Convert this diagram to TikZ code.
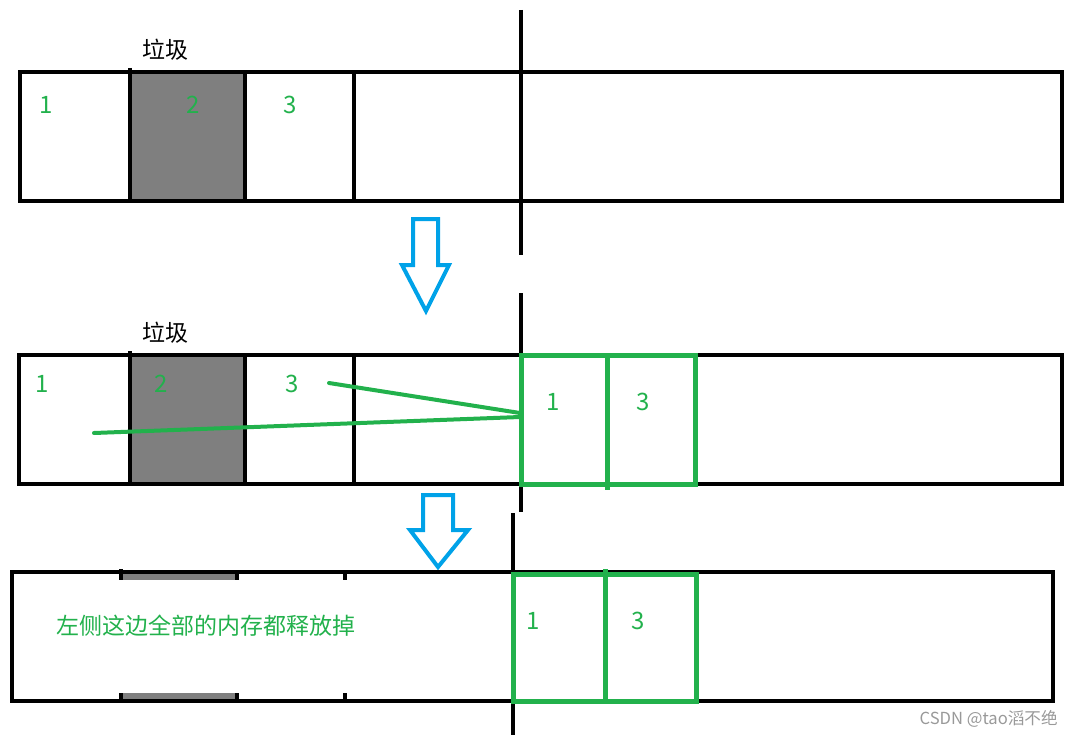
\documentclass[tikz,border=0pt]{standalone}
\usepackage{fontspec}
\setmainfont{Noto Sans CJK SC}
\usetikzlibrary{positioning}
\definecolor{paintgreen}{RGB}{34,177,76}
\definecolor{paintblue}{RGB}{0,162,232}
\definecolor{trash}{RGB}{127,127,127}

\begin{document}
\begin{tikzpicture}
	[x=0.5pt,y=-0.5pt,
	wall/.style={draw=black,line width=2.2pt},
	moved/.style={draw=paintgreen,line width=2.5pt},
	link/.style={draw=paintgreen,line width=2pt,line cap=round},
	num/.style={text=paintgreen,font=\fontsize{12}{14}\selectfont,inner sep=0pt},
	tag/.style={font=\fontsize{11.5}{13}\selectfont,inner sep=0pt},
	downarrow/.style={draw=paintblue,line width=2pt,line join=miter}]
	\useasboundingbox (0,0) rectangle (1075,738);

	% before
	\fill[trash] (130,72) rectangle (245,201);
	\draw[wall] (20,72) rectangle (1062,201);
	\draw[wall] (130,68) -- (130,201);
	\foreach \x in {245,354}
		\draw[wall] (\x,72) -- (\x,201);
	\draw[wall] (521,10) -- (521,255);
	\node[tag] (trashA) at (165,50) {垃圾};
	\foreach \n/\x in {1/46,2/193,3/290}
		\node[num] (a\n) at (\x,105) {\n};

	\draw[downarrow] (413,219) -- (438,219) -- (438,265) -- (449,265)
		-- (426,311) -- (402,265) -- (413,265) -- cycle;

	% copy
	\fill[trash] (130,355) rectangle (245,484);
	\draw[wall] (19,355) rectangle (1062,484);
	\draw[wall] (130,351) -- (130,484);
	\foreach \x in {245,354}
		\draw[wall] (\x,355) -- (\x,484);
	\draw[wall] (521,293) -- (521,512);
	\node[tag] (trashB) at (165,333) {垃圾};
	\foreach \n/\x in {1/42,2/161,3/292}
		\node[num] (b\n) at (\x,384) {\n};
	\draw[moved] (521,355) rectangle (695,484);
	\draw[moved] (607,355) -- (607,490);
	\node[num] (c1) at (553,402) {1};
	\node[num] (c3) at (643,402) {3};
	\coordinate (fromThree) at (329,383);
	\coordinate (toThree) at (520,413);
	\coordinate (fromOne) at (94,433);
	\coordinate (toOne) at (520,417);
	\path
	\foreach \startNode/\endNode in {fromThree/toThree,fromOne/toOne}
	{
		(\startNode) edge[link] (\endNode)
	};

	\draw[downarrow] (423,495) -- (453,495) -- (453,530) -- (468,530)
		-- (438,567) -- (410,530) -- (423,530) -- cycle;

	% after
	\fill[trash] (123,574) rectangle (235,580);
	\fill[trash] (123,693) rectangle (235,699);
	\draw[wall] (12,572) rectangle (1053,701);
	\draw[wall] (121,569) -- (121,580);
	\foreach \x in {237,345}
		\draw[wall] (\x,572) -- (\x,580);
	\foreach \x in {121,237,345}
		\draw[wall] (\x,693) -- (\x,701);
	\draw[wall] (513,513) -- (513,735);
	\draw[moved] (513,574) rectangle (696,701);
	\draw[moved] (605,569) -- (605,701);
	\node[num] (d1) at (533,621) {1};
	\node[num] (d3) at (638,621) {3};
	\node[tag,text=paintgreen] (freed) at (206,626) {左侧这边全部的内存都释放掉};
	\node[anchor=east,inner sep=0pt,text=black!40,font=\fontsize{8.3}{9}\selectfont] (mark) at (1058,719) {CSDN @tao滔不绝};
\end{tikzpicture}
\end{document}
